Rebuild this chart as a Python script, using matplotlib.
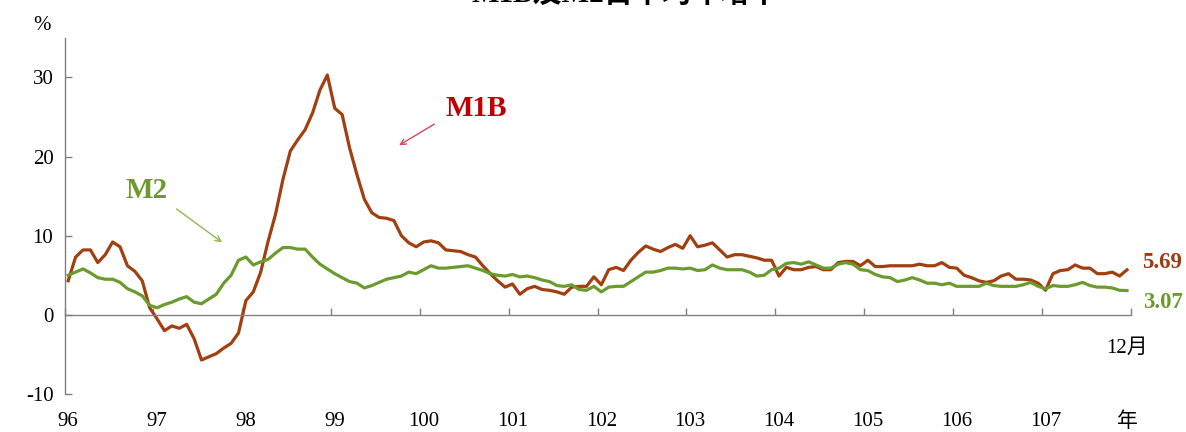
import matplotlib
matplotlib.use("Agg")
import matplotlib.pyplot as plt
import matplotlib.transforms as mtransforms
import numpy as np

plt.rcParams['font.family'] = ['Liberation Serif', 'Noto Sans CJK TC', 'DejaVu Sans']
plt.rcParams['axes.unicode_minus'] = False

# ------------------------------------------------------------------
# data: monthly growth rates, 96/01 - 107/12 (%)
# ------------------------------------------------------------------
years = ['96', '97', '98', '99', '100', '101', '102', '103', '104', '105', '106', '107']

m1b = [
    4.3, 7.3, 8.2, 8.2, 6.6, 7.6, 9.2, 8.6, 6.2, 5.5, 4.3, 0.9,          # 96
    -0.5, -2.0, -1.4, -1.7, -1.2, -3.0, -5.7, -5.3, -4.9, -4.2, -3.6, -2.3,  # 97
    1.8, 2.9, 5.4, 9.3, 12.7, 17.1, 20.7, 22.1, 23.4, 25.5, 28.4, 30.3,  # 98
    26.1, 25.3, 21.1, 17.7, 14.6, 12.9, 12.3, 12.2, 11.9, 10.0, 9.1, 8.6,  # 99
    9.2, 9.35, 9.1, 8.2, 8.1, 8.0, 7.6, 7.3, 6.2, 5.2, 4.3, 3.5,         # 100
    3.9, 2.6, 3.3, 3.6, 3.2, 3.1, 2.9, 2.6, 3.5, 3.6, 3.6, 4.8,          # 101
    3.8, 5.7, 6.0, 5.6, 6.9, 7.9, 8.7, 8.3, 8.0, 8.5, 8.9, 8.4,          # 102
    10.0, 8.6, 8.8, 9.1, 8.2, 7.3, 7.6, 7.6, 7.4, 7.2, 6.9, 6.9,         # 103
    4.9, 6.0, 5.7, 5.7, 6.0, 6.1, 5.7, 5.7, 6.6, 6.75, 6.75, 6.2,        # 104
    6.9, 6.1, 6.1, 6.2, 6.2, 6.2, 6.2, 6.4, 6.2, 6.2, 6.6, 6.0,          # 105
    5.9, 5.0, 4.7, 4.3, 4.1, 4.3, 4.9, 5.2, 4.5, 4.5, 4.4, 4.0,          # 106
    3.1, 5.2, 5.6, 5.7, 6.3, 5.9, 5.9, 5.2, 5.2, 5.4, 4.9, 5.69,         # 107
]

m2 = [
    5.0, 5.4, 5.8, 5.3, 4.7, 4.5, 4.5, 4.1, 3.3, 2.9, 2.4, 1.2,          # 96
    0.9, 1.3, 1.6, 2.0, 2.3, 1.6, 1.4, 2.0, 2.6, 4.0, 5.0, 6.9,          # 97
    7.3, 6.3, 6.7, 7.0, 7.8, 8.5, 8.5, 8.3, 8.3, 7.3, 6.4, 5.8,          # 98
    5.2, 4.7, 4.2, 4.0, 3.4, 3.7, 4.1, 4.5, 4.7, 4.9, 5.4, 5.2,          # 99
    5.7, 6.2, 5.9, 5.9, 6.0, 6.1, 6.2, 5.9, 5.6, 5.2, 5.0, 4.9,          # 100
    5.1, 4.8, 4.9, 4.7, 4.4, 4.2, 3.7, 3.6, 3.8, 3.2, 3.1, 3.6,          # 101
    2.9, 3.5, 3.6, 3.6, 4.2, 4.8, 5.4, 5.4, 5.6, 5.9, 5.9, 5.8,          # 102
    5.9, 5.6, 5.7, 6.3, 5.9, 5.7, 5.7, 5.7, 5.4, 4.9, 5.0, 5.7,          # 103
    5.9, 6.5, 6.6, 6.4, 6.7, 6.3, 5.9, 5.9, 6.4, 6.6, 6.4, 5.7,          # 104
    5.6, 5.1, 4.8, 4.7, 4.2, 4.4, 4.7, 4.4, 4.0, 4.0, 3.8, 4.0,          # 105
    3.6, 3.6, 3.6, 3.6, 4.0, 3.7, 3.6, 3.6, 3.6, 3.8, 4.1, 3.6,          # 106
    3.3, 3.7, 3.6, 3.6, 3.8, 4.1, 3.7, 3.5, 3.5, 3.4, 3.1, 3.07,         # 107
]

title = 'M1B及M2日平均年增率'

c_m1b = '#A13F10'
c_m2 = '#6B9B2E'

# ------------------------------------------------------------------
# figure
# ------------------------------------------------------------------
W, H = 1186, 432
fig = plt.figure(figsize=(W / 100, H / 100), dpi=100)
ax = fig.add_axes([64.5 / W, 1 - 394 / H, (1130.7 - 64.5) / W, (394 - 37.8) / H])

x = np.arange(len(m1b))
ax.plot(x, m1b, color=c_m1b, lw=2.3, solid_joinstyle='round')
ax.plot(x, m2, color=c_m2, lw=2.3, solid_joinstyle='round')

ax.set_xlim(-0.5, len(m1b) - 0.5)
ax.set_ylim(-10, 35)

for s in ['top', 'right']:
    ax.spines[s].set_visible(False)
ax.spines['bottom'].set_position(('data', 0))
for s in ['left', 'bottom']:
    ax.spines[s].set_color('#808080')
    ax.spines[s].set_linewidth(1.0)
ax.spines['left'].set_bounds(-10, 35)

ax.set_yticks([-10, 0, 10, 20, 30])
ax.tick_params(axis='y', direction='in', length=5, width=1, color='#808080',
               labelsize=15, pad=8)

# year boundary ticks on the zero line, labels at the bottom
ax.set_xticks(np.arange(-0.5, len(m1b), 12))
ax.tick_params(axis='x', direction='in', length=5, width=1, color='#808080',
               labelbottom=False)

trans = mtransforms.blended_transform_factory(ax.transData, fig.transFigure)
for k, yr in enumerate(years):
    ax.text(k * 12, 1 - 422 / H, yr, transform=trans, ha='center', va='center',
            fontsize=15)
ax.text(len(m1b) - 1, 1 - 422 / H, '年', transform=trans, ha='center', va='center',
        fontsize=15)
ax.text(len(m1b) - 1, 1 - 348 / H, '12月', transform=trans, ha='center', va='center',
        fontsize=15)

# end values
fig.text(1162 / W, 1 - 263 / H, f'{m1b[-1]:.2f}', ha='center', va='center',
         fontsize=16.5, fontweight='bold', color='#9C3A12')
fig.text(1163 / W, 1 - 302 / H, f'{m2[-1]:.2f}', ha='center', va='center',
         fontsize=16.5, fontweight='bold', color=c_m2)

# series labels with arrows
fig.text(475.8 / W, 1 - 108.3 / H, 'M1B', ha='center', va='center', fontsize=21,
         fontweight='bold', color='#C00000')
ax.annotate('', xy=(396.7, H - 146.7), xytext=(436.7, H - 122.7),
            xycoords='figure pixels', textcoords='figure pixels',
            arrowprops=dict(arrowstyle='->', color='#D04858', lw=1.0))
fig.text(146.7 / W, 1 - 190 / H, 'M2', ha='center', va='center', fontsize=21,
         fontweight='bold', color='#6E9A2C')
ax.annotate('', xy=(224.3, H - 244), xytext=(174.3, H - 207.3),
            xycoords='figure pixels', textcoords='figure pixels',
            arrowprops=dict(arrowstyle='->', color='#8CBA4C', lw=1.0))

fig.text(42 / W, 1 - 25 / H, '%', ha='center', va='center', fontsize=15)

# title, cut at the top edge as in the source
fig.text(625 / W, 1 - 2 / H, title, ha='center', va='baseline', fontsize=21,
         fontweight='bold')

fig.savefig('out.png', dpi=100)
